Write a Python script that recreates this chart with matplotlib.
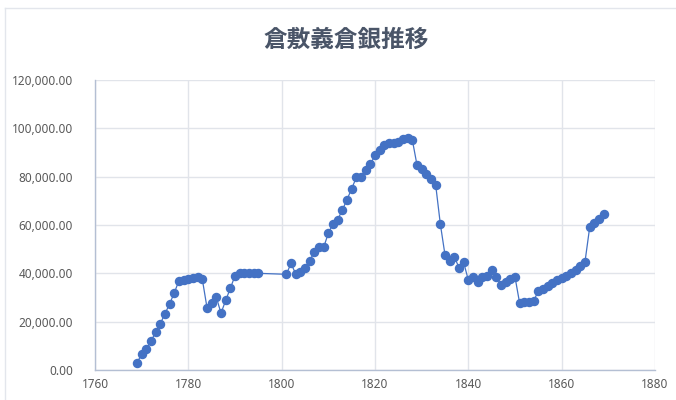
import matplotlib
matplotlib.use("Agg")
import matplotlib.pyplot as plt
from matplotlib.ticker import FuncFormatter

plt.rcParams["font.family"] = ["Noto Sans CJK JP", "DejaVu Sans"]

years = list(range(1769, 1796)) + list(range(1801, 1870))
silver = [
    3000, 6500, 8700, 12000, 15600, 19200, 23300, 27400, 32000, 37000,
    37200, 37500, 37900, 38400, 37500, 25800, 27600, 30100, 23500, 28800,
    33800, 39000, 40000, 40100, 40300, 40300, 40000,
    39600, 44100, 39800, 40400, 42400, 45300, 48800, 51000, 50800, 56600,
    60500, 62200, 66200, 70500, 75000, 79700, 80000, 82800, 85100, 88800,
    91000, 93200, 93800, 94100, 94500, 95400, 95900, 95200, 84800, 83000,
    81000, 78900, 76600, 60400, 47600, 45300, 46800, 42400, 44500, 37200,
    38600, 36500, 38400, 39000, 41200, 38500, 35200, 36500, 37500, 38500,
    27600, 28100, 28000, 28700, 32600, 33600, 34800, 36000, 37200, 38100,
    39000, 40100, 41400, 43000, 44800, 59000, 60700, 62300, 64400,
]
title = "倉敷義倉銀推移"

blue = "#4472C4"
grid = "#E1E4EA"
label_color = "#595959"

fig = plt.figure(figsize=(6.76, 4.0), dpi=100)
ax = fig.add_axes([95 / 676, 30 / 400, 560 / 676, 290 / 400])

ax.plot(years, silver, color=blue, linewidth=0.9, marker="o",
        markersize=5.8, markerfacecolor=blue, markeredgecolor=blue, zorder=3)

ax.set_xlim(1760, 1880)
ax.set_ylim(0, 120000)
ax.set_xticks(range(1760, 1881, 20))
ax.set_yticks(range(0, 120001, 20000))
ax.yaxis.set_major_formatter(FuncFormatter(lambda v, p: f"{v:,.2f}"))

ax.grid(True, color=grid, linewidth=1)
ax.set_axisbelow(True)
for side in ["top", "right"]:
    ax.spines[side].set_visible(False)
for side in ["left", "bottom"]:
    ax.spines[side].set_color("#B4BFD3")
    ax.spines[side].set_linewidth(1)
ax.tick_params(length=0, labelcolor=label_color, labelsize=8.5)
ax.tick_params(axis="y", pad=16)
ax.tick_params(axis="x", pad=6)
for lbl in ax.get_xticklabels() + ax.get_yticklabels():
    lbl.set_family(["Noto Sans", "DejaVu Sans"])

fig.text(346 / 676, 1 - 40 / 400, title, ha="center", va="center",
         fontsize=17, fontweight="bold", color="#4A5568")

# chart border (only top and left visible in the reference crop)
fig.add_artist(plt.Line2D([5 / 676, 1], [1 - 8 / 400, 1 - 8 / 400],
                          transform=fig.transFigure, color="#E3E6EC", lw=1))
fig.add_artist(plt.Line2D([5 / 676, 5 / 676], [0, 1 - 8 / 400],
                          transform=fig.transFigure, color="#E3E6EC", lw=1))

fig.savefig("out.png", dpi=100)
